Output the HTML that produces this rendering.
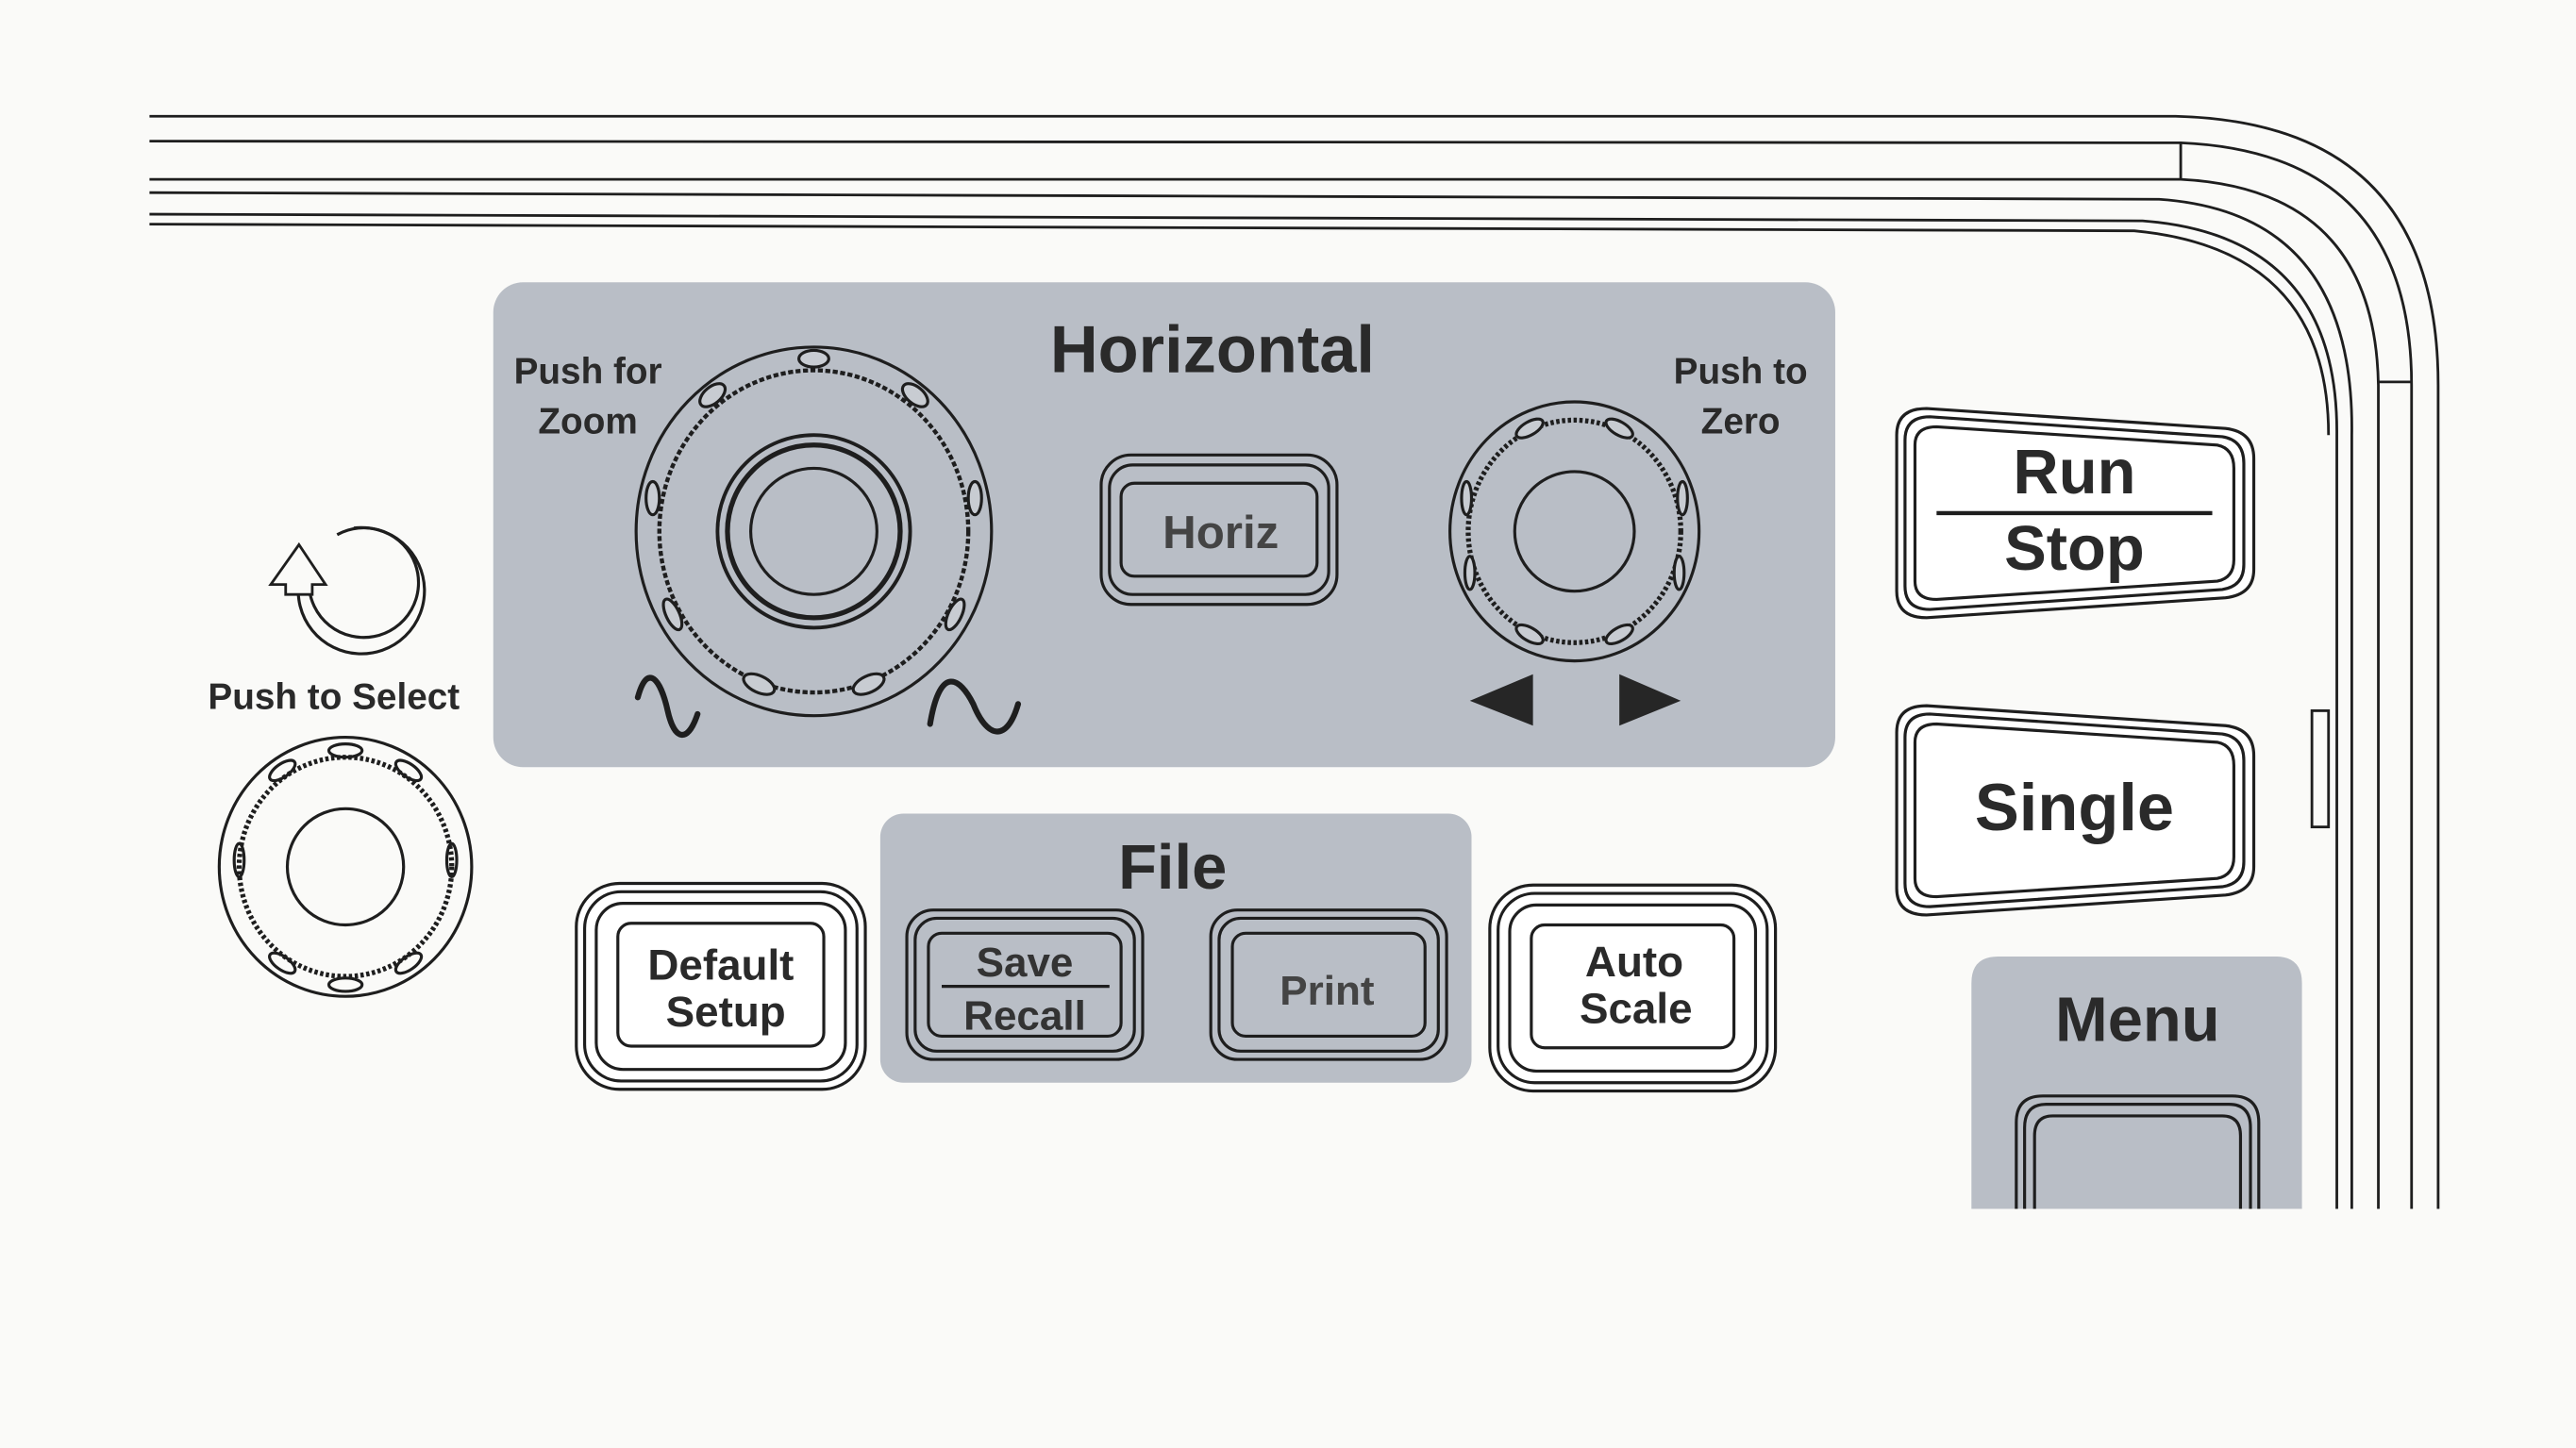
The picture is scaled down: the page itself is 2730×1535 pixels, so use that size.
<!DOCTYPE html>
<html><head><meta charset="utf-8"><style>
html,body{margin:0;padding:0;background:#fafaf8;}
svg{display:block;}
text{font-family:"Liberation Sans",Arial,sans-serif;font-weight:bold;fill:#2a2a2a;text-anchor:middle;}
</style></head><body>
<svg width="2730" height="1535" viewBox="0 0 1551 872" preserveAspectRatio="none" xmlns="http://www.w3.org/2000/svg">
<rect width="1551" height="872" fill="#fafaf8"/>
<g fill="none" stroke="#1e1e1e" stroke-width="1.6">
<path d="M90,70 L1310,70 Q1468,74 1468,232 L1468,728"/>
<path d="M90,85 L1313,86 Q1452,92 1452,232 L1452,728"/>
<path d="M90,108 L1313,108 Q1430,114 1432,232 L1432,728"/>
<path d="M90,116 L1300,120 Q1418,128 1416,262 L1416,728"/>
<path d="M90,129 L1290,133 Q1408,142 1407,262 L1407,728"/>
<path d="M90,135 L1285,139 Q1402,150 1402,262"/>
<path d="M1313,86 L1313,108"/>
<path d="M1432,230 L1452,230"/>
<rect x="1392" y="428" width="10" height="70"/>
</g>
<!-- Horizontal panel -->
<rect x="297" y="170" width="808" height="292" rx="18" fill="#b9bec6"/>
<text x="730" y="224" font-size="40">Horizontal</text>
<text x="354" y="231" font-size="22">Push for</text>
<text x="354" y="261" font-size="22">Zoom</text>
<text x="1048" y="231" font-size="22">Push to</text>
<text x="1048" y="261" font-size="22">Zero</text>
<g fill="none" stroke="#1e1e1e" stroke-width="1.8">
<ellipse cx="490" cy="320" rx="107" ry="111"/>
<ellipse cx="490" cy="320" rx="93" ry="97" stroke-width="2.5" stroke-dasharray="3 1.5"/>
<circle cx="490" cy="320" r="58" stroke-width="2.2"/>
<circle cx="490" cy="320" r="52" stroke-width="3"/>
<circle cx="490" cy="320" r="38"/>
<g fill="#c8ccd2">
<ellipse cx="490" cy="216" rx="9" ry="5"/><ellipse cx="429" cy="238" rx="9" ry="5" transform="rotate(-40 429 238)"/><ellipse cx="551" cy="238" rx="9" ry="5" transform="rotate(40 551 238)"/>
<ellipse cx="393" cy="300" rx="4" ry="10"/><ellipse cx="587" cy="300" rx="4" ry="10"/>
<ellipse cx="405" cy="370" rx="4" ry="10" transform="rotate(-25 405 370)"/><ellipse cx="575" cy="370" rx="4" ry="10" transform="rotate(25 575 370)"/>
<ellipse cx="457" cy="412" rx="10" ry="5" transform="rotate(25 457 412)"/><ellipse cx="523" cy="412" rx="10" ry="5" transform="rotate(-25 523 412)"/>
</g>
<ellipse cx="948" cy="320" rx="75" ry="78"/>
<ellipse cx="948" cy="320" rx="64" ry="67" stroke-width="3" stroke-dasharray="2 1.5"/>
<circle cx="948" cy="320" r="36"/>
<g fill="#c8ccd2">
<ellipse cx="921" cy="258" rx="9" ry="4" transform="rotate(-30 921 258)"/><ellipse cx="975" cy="258" rx="9" ry="4" transform="rotate(30 975 258)"/>
<ellipse cx="883" cy="300" rx="3" ry="10"/><ellipse cx="1013" cy="300" rx="3" ry="10"/>
<ellipse cx="885" cy="345" rx="3" ry="10"/><ellipse cx="1011" cy="345" rx="3" ry="10"/>
<ellipse cx="921" cy="382" rx="9" ry="4" transform="rotate(30 921 382)"/><ellipse cx="975" cy="382" rx="9" ry="4" transform="rotate(-30 975 382)"/>
</g>
<path d="M384,420 C390,398 398,410 402,428 C406,446 414,448 420,430" stroke-width="3.5" stroke-linecap="round"/>
<path d="M560,436 C566,400 578,408 586,424 C594,444 606,448 613,424" stroke-width="3.5" stroke-linecap="round"/>
</g>
<path d="M885,422 L923,406 L923,437 Z" fill="#262626"/>
<path d="M975,406 L1012,422 L975,437 Z" fill="#262626"/>
<!-- Horiz button -->
<g fill="none" stroke="#1e1e1e" stroke-width="1.8">
<rect x="663" y="274" width="142" height="90" rx="18"/>
<rect x="668" y="280" width="132" height="78" rx="14"/>
<rect x="675" y="291" width="118" height="56" rx="8"/>
</g>
<text x="735" y="330" font-size="28" fill="#444" style="fill:#444">Horiz</text>
<!-- Push to select -->
<g fill="none" stroke="#1e1e1e" stroke-width="1.8">
<path d="M213,318 A38,38 0 1 1 180,350"/>
<path d="M203,322 A33,33 0 1 1 186,352"/>
</g>
<path d="M163,352 L180,328 L196,352 L188,352 L188,358 L172,358 L172,352 Z" fill="#fafaf8" stroke="#1e1e1e" stroke-width="1.6"/>
<text x="201" y="427" font-size="22">Push to Select</text>
<g fill="none" stroke="#1e1e1e" stroke-width="1.8">
<ellipse cx="208" cy="522" rx="76" ry="78"/>
<ellipse cx="208" cy="522" rx="64" ry="66" stroke-width="3" stroke-dasharray="2 1.5"/>
<circle cx="208" cy="522" r="35"/>
<ellipse cx="208" cy="452" rx="10" ry="4"/><ellipse cx="208" cy="593" rx="10" ry="4"/>
<ellipse cx="246" cy="464" rx="9" ry="4" transform="rotate(35 246 464)"/><ellipse cx="170" cy="464" rx="9" ry="4" transform="rotate(-35 170 464)"/>
<ellipse cx="272" cy="518" rx="3" ry="10"/><ellipse cx="144" cy="518" rx="3" ry="10"/>
<ellipse cx="246" cy="580" rx="9" ry="4" transform="rotate(-35 246 580)"/><ellipse cx="170" cy="580" rx="9" ry="4" transform="rotate(35 170 580)"/>
</g>
<!-- File panel -->
<rect x="530" y="490" width="356" height="162" rx="14" fill="#b9bec6"/>
<text x="706" y="535" font-size="38">File</text>
<g fill="none" stroke="#1e1e1e" stroke-width="1.8">
<rect x="546" y="548" width="142" height="90" rx="16"/>
<rect x="551" y="553" width="132" height="80" rx="13"/>
<rect x="559" y="562" width="116" height="62" rx="8"/>
<rect x="729" y="548" width="142" height="90" rx="16"/>
<rect x="734" y="553" width="132" height="80" rx="13"/>
<rect x="742" y="562" width="116" height="62" rx="8"/>
<path d="M567,594 L668,594"/>
<!-- Default setup -->
<rect x="347" y="532" width="174" height="124" rx="26" fill="#fff"/>
<rect x="352" y="537" width="164" height="114" rx="22"/>
<rect x="359" y="544" width="150" height="100" rx="16"/>
<rect x="372" y="556" width="124" height="74" rx="8"/>
<!-- Auto scale -->
<rect x="897" y="533" width="172" height="124" rx="26" fill="#fff"/>
<rect x="902" y="538" width="162" height="114" rx="22"/>
<rect x="909" y="545" width="148" height="100" rx="16"/>
<rect x="922" y="557" width="122" height="74" rx="8"/>
<!-- Run/Stop -->
<path d="M1160,246 L1340,258 Q1357,260 1357,276 L1357,343 Q1357,358 1340,360 L1160,372 Q1142,372 1142,356 L1142,262 Q1142,246 1160,246 Z" fill="#fff"/>
<path d="M1162,251 L1338,263 Q1351,265 1351,279 L1351,340 Q1351,353 1338,355 L1162,367 Q1147,367 1147,353 L1147,265 Q1147,251 1162,251 Z"/>
<path d="M1166,257 L1335,268 Q1345,270 1345,282 L1345,337 Q1345,348 1335,350 L1166,361 Q1153,361 1153,350 L1153,268 Q1153,257 1166,257 Z"/>
<path d="M1166,309 L1332,309" stroke-width="2.5"/>
<!-- Single -->
<path d="M1160,425 L1340,437 Q1357,439 1357,455 L1357,522 Q1357,537 1340,539 L1160,551 Q1142,551 1142,535 L1142,441 Q1142,425 1160,425 Z" fill="#fff"/>
<path d="M1162,430 L1338,442 Q1351,444 1351,458 L1351,519 Q1351,532 1338,534 L1162,546 Q1147,546 1147,532 L1147,444 Q1147,430 1162,430 Z"/>
<path d="M1166,436 L1335,447 Q1345,449 1345,461 L1345,516 Q1345,527 1335,529 L1166,540 Q1153,540 1153,529 L1153,447 Q1153,436 1166,436 Z"/>
</g>
<text x="617" y="588" font-size="25" style="fill:#333">Save</text>
<text x="617" y="620" font-size="25" style="fill:#333">Recall</text>
<text x="799" y="605" font-size="25" style="fill:#444">Print</text>
<text x="434" y="590" font-size="26">Default</text>
<text x="437" y="618" font-size="26">Setup</text>
<text x="984" y="588" font-size="26">Auto</text>
<text x="985" y="616" font-size="26">Scale</text>
<text x="1249" y="297" font-size="38">Run</text>
<text x="1249" y="343" font-size="38">Stop</text>
<text x="1249" y="500" font-size="40">Single</text>
<!-- Menu -->
<path d="M1187,728 L1187,592 Q1187,576 1203,576 L1370,576 Q1386,576 1386,592 L1386,728 Z" fill="#b9bec6"/>
<text x="1287" y="627" font-size="38">Menu</text>
<g fill="none" stroke="#1e1e1e" stroke-width="1.8">
<path d="M1214,728 L1214,676 Q1214,660 1230,660 L1344,660 Q1360,660 1360,676 L1360,728"/>
<path d="M1219,728 L1219,679 Q1219,665 1232,665 L1342,665 Q1355,665 1355,679 L1355,728"/>
<path d="M1225,728 L1225,684 Q1225,672 1236,672 L1338,672 Q1349,672 1349,684 L1349,728"/>
</g>
</svg>
</body></html>
